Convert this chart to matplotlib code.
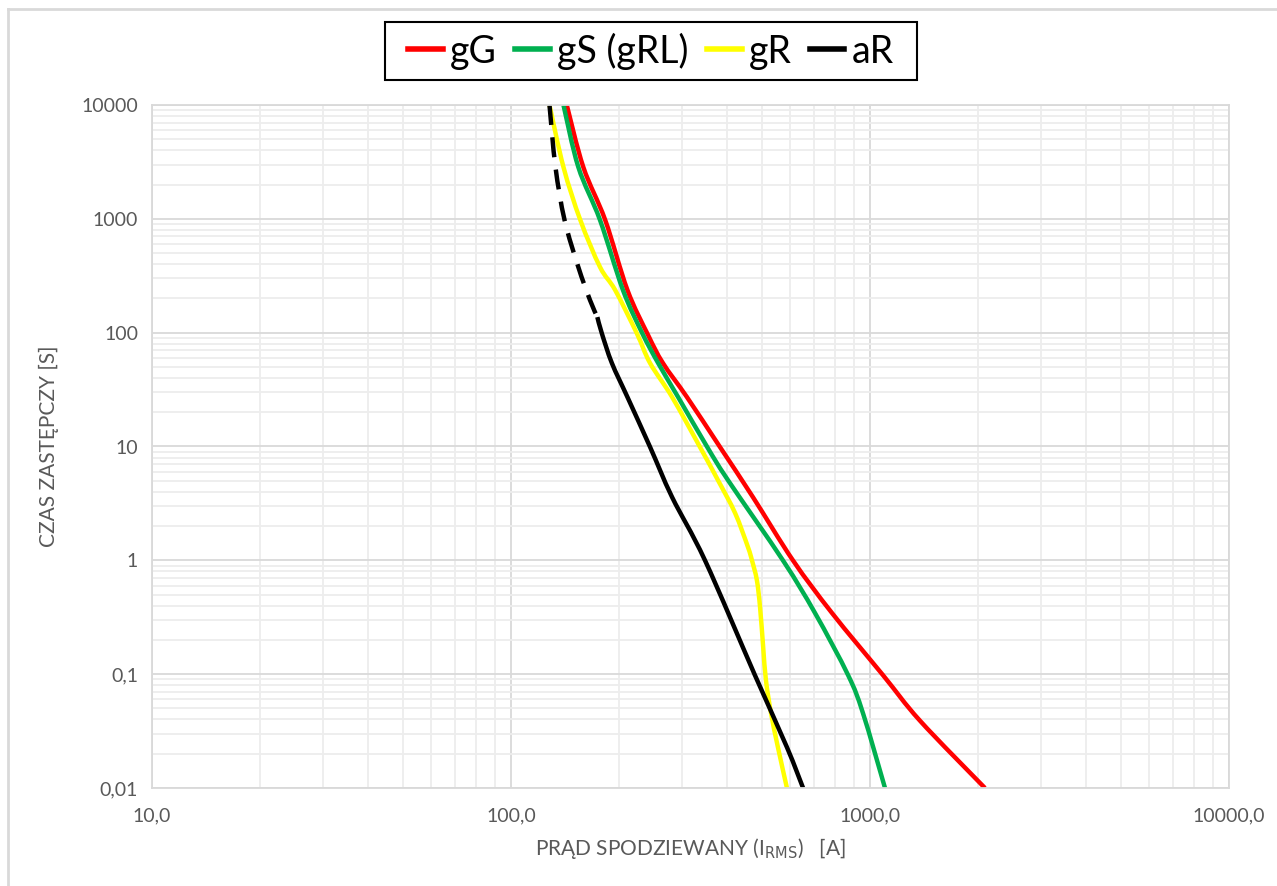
# -*- coding: utf-8 -*-
# Charakterystyki czasowo-prądowe wkładek topikowych

import numpy as np
import matplotlib
matplotlib.use('Agg')
import matplotlib.pyplot as plt
from matplotlib.ticker import FixedLocator, FuncFormatter, LogLocator, NullFormatter
from matplotlib.lines import Line2D
from matplotlib.path import Path
from matplotlib.patches import PathPatch, Rectangle

plt.rcParams['font.family'] = ['Lato', 'DejaVu Sans']

# prąd [A], czas [s]
gG_I = [143, 159, 183, 211, 241, 265, 309, 382, 472, 610, 784, 1087, 1378, 2090]
gG_t = [10000, 2850, 975, 237, 95, 54, 27.2, 9.9, 3.59, 1.0, 0.344, 0.098, 0.039, 0.01]

gS_I = [140, 154, 177, 205, 232, 257, 292, 352, 402, 572, 703, 869, 956, 1101]
gS_t = [10000, 2850, 975, 237, 99, 54, 27.2, 9.9, 5.07, 1.0, 0.344, 0.098, 0.0454, 0.01]

gR_I = [128, 140, 156, 177, 195, 224, 244, 281, 336, 377, 421, 457, 469, 484, 494, 504, 513, 530, 554, 587]
gR_t = [10000, 2850, 975, 377, 237, 99, 54, 27.2, 9.9, 5.07, 2.6, 1.31, 1.0, 0.67, 0.388, 0.173, 0.0885, 0.0454, 0.0228, 0.01]

aR_dash_I = [128, 133, 141, 154, 166, 174]
aR_dash_t = [10000, 2850, 975, 377, 193, 137]

aR_I = [174, 179, 191, 211, 244, 281, 347, 478, 587, 651]
aR_t = [137, 99, 54, 27.2, 9.9, 3.59, 1.0, 0.098, 0.0228, 0.01]

x_ticks = [10, 100, 1000, 10000]
y_ticks = [0.01, 0.1, 1, 10, 100, 1000, 10000]
y_labels = ['0,01', '0,1', '1', '10', '100', '1000', '10000']


def smooth_path(xs, ys):
    """wygładzona linia (jak w Excelu) - Catmull-Rom w skali log-log"""
    pts = np.column_stack([np.log10(xs), np.log10(ys)])
    verts = [pts[0]]
    codes = [Path.MOVETO]
    n = len(pts)
    for i in range(n - 1):
        p0 = pts[i - 1] if i > 0 else pts[i]
        p1, p2 = pts[i], pts[i + 1]
        p3 = pts[i + 2] if i + 2 < n else pts[i + 1]
        verts += [p1 + (p2 - p0) / 6, p2 - (p3 - p1) / 6, p2]
        codes += [Path.CURVE4] * 3
    return Path(10 ** np.array(verts), codes)


fig = plt.figure(figsize=(12.77, 8.86), dpi=100)
ax = fig.add_axes([152 / 1277, 1 - 788 / 886, (1229 - 152) / 1277, (788 - 105) / 886])
ax.set_xscale('log')
ax.set_yscale('log')
ax.set_xlim(10, 10000)
ax.set_ylim(0.01, 10000)

lw = 3.2
series = [
    (gG_I, gG_t, '#FF0000', 'solid'),
    (gS_I, gS_t, '#00B050', 'solid'),
    (gR_I, gR_t, '#FFFF00', 'solid'),
    (aR_dash_I, aR_dash_t, 'black', (0, (4.5, 2.8))),
    (aR_I, aR_t, 'black', 'solid'),
]
for xs, ys, c, ls in series:
    ax.add_patch(PathPatch(smooth_path(xs, ys), fill=False, edgecolor=c, lw=lw,
                           linestyle=ls, joinstyle='round', capstyle='butt'))

ax.xaxis.set_major_locator(FixedLocator(x_ticks))
ax.xaxis.set_major_formatter(FuncFormatter(lambda v, p: f'{v:.1f}'.replace('.', ',')))
ax.yaxis.set_major_locator(FixedLocator(y_ticks))
ax.yaxis.set_major_formatter(FuncFormatter(lambda v, p: y_labels[y_ticks.index(v)] if v in y_ticks else ''))
for a in (ax.xaxis, ax.yaxis):
    a.set_minor_locator(LogLocator(base=10, subs=np.arange(2, 10), numticks=20))
    a.set_minor_formatter(NullFormatter())

ax.grid(True, which='major', color='#D9D9D9', lw=1.3)
ax.grid(True, which='minor', color='#EDEDED', lw=1.3)
ax.set_axisbelow(True)
ax.tick_params(which='both', length=0, labelsize=14, labelcolor='#595959')
ax.tick_params(axis='x', pad=14)
ax.tick_params(axis='y', pad=10)
for s in ax.spines.values():
    s.set_color('#D9D9D9')
    s.set_linewidth(1.3)

ax.set_xlabel('PRĄD SPODZIEWANY (I$_{\\mathrm{RMS}}$)   [A]', fontsize=15, color='#595959', labelpad=8)
ax.set_ylabel('CZAS ZASTĘPCZY [S]', fontsize=15, color='#595959', labelpad=16)

# legenda w osobnej ramce
fig.add_artist(Rectangle((385 / 1277, 1 - 80 / 886), 532 / 1277, 58 / 886,
                         transform=fig.transFigure, fill=False, edgecolor='black', lw=1.5))
handles = [Line2D([0], [0], color=c, lw=4) for c in ['#FF0000', '#00B050', '#FFFF00', 'black']]
fig.legend(handles, ['gG', 'gS (gRL)', 'gR', 'aR'], loc='center',
           bbox_to_anchor=(651 / 1277, 1 - 51 / 886), ncol=4,
           fontsize=27, frameon=False, handlelength=0.93, handletextpad=0.19,
           columnspacing=0.48, borderpad=0.1)

# ramka obszaru wykresu
fig.add_artist(Line2D([8 / 1277, 8 / 1277], [0, 1 - 9 / 886], color='#D9D9D9', lw=2))
fig.add_artist(Line2D([8 / 1277, 1], [1 - 9 / 886, 1 - 9 / 886], color='#D9D9D9', lw=2))

plt.savefig('out.png', dpi=100)
